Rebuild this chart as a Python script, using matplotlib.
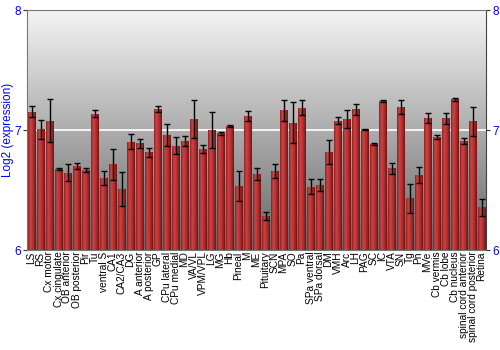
import numpy as np
import matplotlib
matplotlib.use("Agg")
import matplotlib.pyplot as plt
from matplotlib.colors import LinearSegmentedColormap

plt.rcParams['font.family'] = ['Liberation Sans', 'DejaVu Sans']

regions = ["LS", "RS", "Cx motor", "Cx cingulate", "OB anterior", "OB posterior",
           "Pir", "Tu", "ventral S", "CA1", "CA2/CA3", "DG", "A anterior",
           "A posterior", "GP", "CPu lateral", "CPu medial", "MD", "VA/VL",
           "VPM/VPL", "LG", "MG", "Hb", "Pineal", "M", "ME", "Pituitary", "SCN",
           "MPA", "SO", "Pa", "SPa ventral", "SPa dorsal", "DM", "VMH", "Arc",
           "LH", "PAG", "SC", "IC", "VTA", "SN", "Tg", "Pn", "MVe", "Cb vermis",
           "Cb lobe", "Cb nucleus", "spinal cord anterior", "spinal cord posterior",
           "Retina"]

expression = [7.153, 7.006, 7.078, 6.675, 6.644, 6.703, 6.667, 7.136, 6.600, 6.714,
              6.506, 6.903, 6.889, 6.814, 7.175, 6.958, 6.869, 6.908, 7.092, 6.842,
              7.000, 6.972, 7.033, 6.533, 7.117, 6.631, 6.283, 6.658, 7.164, 7.061,
              7.186, 6.528, 6.542, 6.817, 7.078, 7.092, 7.172, 7.008, 6.881, 7.242,
              6.681, 7.194, 6.431, 6.625, 7.100, 6.942, 7.097, 7.256, 6.908, 7.072,
              6.356]

errors = [0.045, 0.08, 0.18, 0.01, 0.07, 0.025, 0.015, 0.03, 0.055, 0.13,
          0.14, 0.06, 0.04, 0.04, 0.025, 0.09, 0.07, 0.045, 0.16, 0.03,
          0.15, 0.01, 0.007, 0.125, 0.04, 0.05, 0.03, 0.06, 0.09, 0.17,
          0.065, 0.065, 0.05, 0.1, 0.03, 0.075, 0.047, 0.004, 0.008, 0.005,
          0.045, 0.06, 0.12, 0.07, 0.04, 0.014, 0.045, 0.014, 0.028, 0.12,
          0.07]

fig = plt.figure(figsize=(5, 3.5), dpi=100)
ax = fig.add_axes([0.054, 0.2857, 0.918, 0.6857])

x = np.arange(len(regions))
ax.set_xlim(-0.5, len(regions) - 0.5)
ax.set_ylim(6, 8)

# gray vertical gradient for the background
bg = LinearSegmentedColormap.from_list("bg", ["#666666", "#f4f4f4"])
ax.imshow(np.linspace(0, 1, 256).reshape(-1, 1), cmap=bg, origin="lower",
          extent=[-0.5, len(regions) - 0.5, 6, 8], aspect="auto", zorder=0)

ax.axhline(7, color="#f4f4f4", linewidth=1.4, zorder=1)

bars = ax.bar(x, np.array(expression) - 6, bottom=6, width=0.88,
              color="#b03030", edgecolor="#c85050", linewidth=0.6, zorder=2)

# horizontal red shading inside each bar
redmap = LinearSegmentedColormap.from_list(
    "red", ["#8a2020", "#c84444", "#c03838", "#a02828", "#6a1414"])
grad = np.linspace(0, 1, 64).reshape(1, -1)
for b in bars:
    x0 = b.get_x()
    im = ax.imshow(grad, cmap=redmap, aspect="auto", zorder=2.5,
                   extent=[x0, x0 + b.get_width(), 6, 6 + b.get_height()])
    im.set_clip_path(b)

ax.errorbar(x, expression, yerr=errors, fmt="none", ecolor="black",
            elinewidth=1, capsize=2, capthick=1, zorder=3)

ax.set_xticks(x)
ax.set_xticklabels(regions, rotation=90, fontsize=7.3)
ax.tick_params(axis="x", length=0, pad=1)

ax.set_yticks([6, 7, 8])
ax.tick_params(axis="y", colors="#333333", labelcolor="blue", labelsize=8.5,
               length=3, direction="out", left=True, right=True,
               labelleft=True, labelright=True, pad=1.5)
ax.set_ylabel("Log2 (expression)", color="blue", fontsize=8.5)
ax.yaxis.set_label_coords(-0.029, 0.5)

for s in ax.spines.values():
    s.set_color("#777777")
ax.spines["right"].set_color("#444444")

fig.savefig("out.png", dpi=100)
